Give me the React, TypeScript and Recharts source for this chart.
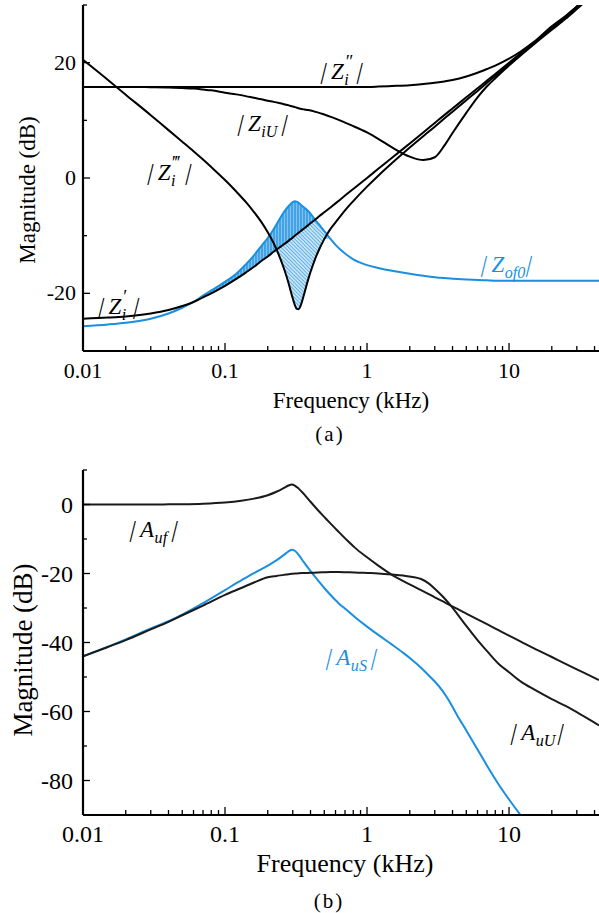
import React from 'react';
import { ComposedChart, Line, Area, XAxis, YAxis } from 'recharts';

const FONT = '"Liberation Serif", "DejaVu Serif", "Noto Serif", serif';
const BLUE = '#1a8fe0';
const BLACK = '#000000';

// ---------- shared x-axis ticks ----------
const xTicks = [
  0.01, 0.02, 0.03, 0.04, 0.05, 0.06, 0.07, 0.08, 0.09,
  0.1, 0.2, 0.3, 0.4, 0.5, 0.6, 0.7, 0.8, 0.9,
  1, 2, 3, 4, 5, 6, 7, 8, 9,
  10, 20, 30, 40,
];
const xLabels = [0.01, 0.1, 1, 10];

// ---------- (a) impedances ----------
const topFreq = [0.01, 0.015, 0.02, 0.03, 0.04, 0.05, 0.06, 0.07, 0.08, 0.1, 0.12, 0.14, 0.16, 0.18, 0.2, 0.22, 0.24, 0.26, 0.28, 0.29, 0.3, 0.31, 0.32, 0.33, 0.34, 0.36, 0.38, 0.4, 0.43, 0.46, 0.5, 0.55, 0.6, 0.7, 0.8, 1.0, 1.2, 1.5, 2.0, 2.5, 3.0, 3.5, 4, 5, 6, 7, 8, 10, 12, 15, 20, 25, 30, 35, 43];
const ziPrime = [-24.4, -24.2, -24.0, -23.5, -22.9, -22.2, -21.5, -20.7, -20.0, -18.7, -17.5, -16.4, -15.4, -14.4, -13.6, -12.8, -12.1, -11.5, -10.9, -10.6, -10.3, -10.0, -9.75, -9.5, -9.25, -8.75, -8.3, -7.85, -7.25, -6.65, -5.95, -5.15, -4.4, -3.05, -1.9, 0.0, 1.6, 3.5, 6.0, 7.95, 9.55, 10.9, 12.05, 14.0, 15.55, 16.9, 18.05, 20.0, 21.6, 23.5, 26.0, 27.95, 29.7, 31.0, 32.8];
const ziDouble = [15.8, 15.8, 15.8, 15.8, 15.8, 15.8, 15.8, 15.8, 15.8, 15.8, 15.8, 15.8, 15.8, 15.8, 15.8, 15.8, 15.8, 15.8, 15.8, 15.8, 15.8, 15.8, 15.8, 15.8, 15.8, 15.8, 15.8, 15.8, 15.8, 15.8, 15.8, 15.8, 15.8, 15.8, 15.8, 15.8, 15.85, 15.95, 16.1, 16.3, 16.5, 16.75, 17.0, 17.6, 18.25, 18.9, 19.5, 20.7, 21.9, 23.6, 26.3, 28.1, 29.75, 31.1, 32.9];
const ziTriple = [20.5, 17.0, 14.45, 10.9, 8.3, 6.3, 4.65, 3.2, 1.9, -0.35, -2.35, -4.15, -5.9, -7.6, -9.4, -11.3, -13.4, -15.7, -18.2, -19.6, -20.9, -22.0, -22.7, -22.75, -22.2, -20.2, -18.1, -16.3, -14.1, -12.4, -10.6, -8.9, -7.7, -5.6, -4.0, -1.5, 0.4, 2.6, 5.3, 7.3, 8.9, 10.3, 11.5, 13.5, 15.1, 16.5, 17.7, 19.7, 21.35, 23.35, 25.9, 27.9, 29.65, 30.95, 32.75];
const ziU = [15.8, 15.8, 15.8, 15.75, 15.7, 15.6, 15.5, 15.35, 15.2, 14.8, 14.5, 14.2, 13.9, 13.65, 13.4, 13.2, 13.0, 12.8, 12.6, 12.5, 12.4, 12.3, 12.2, 12.1, 12.0, 11.9, 11.8, 11.7, 11.5, 11.3, 11.0, 10.65, 10.3, 9.6, 9.0, 7.9, 6.8, 5.3, 3.7, 3.1, 3.6, 5.6, 7.8, 11.3, 14.0, 15.9, 17.3, 19.5, 21.2, 23.2, 25.7, 27.6, 29.3, 30.75, 32.6];
const zof0 = [-25.7, -25.4, -25.1, -24.4, -23.5, -22.5, -21.5, -20.4, -19.5, -18.0, -16.6, -15.0, -13.4, -11.8, -10.4, -8.9, -7.3, -5.9, -4.9, -4.5, -4.2, -4.05, -4.1, -4.3, -4.6, -5.1, -5.6, -6.2, -7.2, -8.1, -9.2, -10.5, -11.6, -13.1, -14.1, -15.1, -15.6, -16.1, -16.6, -16.95, -17.2, -17.35, -17.45, -17.6, -17.7, -17.75, -17.8, -17.8, -17.8, -17.8, -17.8, -17.8, -17.8, -17.8, -17.8];
const topYTicks = [-30, -20, -10, 0, 10, 20, 30];
const topYLabels = [-20, 0, 20];

// ---------- (b) gains ----------
const bottomFreq = [0.01, 0.015, 0.02, 0.03, 0.04, 0.05, 0.07, 0.1, 0.13, 0.16, 0.2, 0.23, 0.26, 0.28, 0.295, 0.31, 0.33, 0.36, 0.4, 0.45, 0.5, 0.55, 0.63, 0.72, 0.82, 1.0, 1.2, 1.5, 1.8, 2.1, 2.4, 2.7, 3.0, 3.4, 3.8, 4.3, 5.0, 6.0, 7.0, 8.5, 10, 12.2, 15, 20, 25, 33, 43];
const auf = [0, 0, 0, 0, 0.05, 0.1, 0.25, 0.6, 1.1, 1.7, 2.7, 3.7, 4.8, 5.5, 5.8, 5.5, 4.6, 3.0, 0.8, -1.6, -3.6, -5.4, -7.9, -10.3, -12.5, -15.3, -17.7, -20.4, -22.2, -23.6, -24.8, -25.9, -26.9, -28.0, -29.1, -30.2, -31.6, -33.3, -34.7, -36.5, -38.0, -39.8, -41.7, -44.2, -46.2, -48.6, -50.9];
const auU = [-44, -41.3, -39.3, -36.2, -34.0, -32.1, -29.3, -26.2, -24.2, -22.6, -21.1, -20.7, -20.4, -20.2, -20.1, -20.0, -19.9, -19.85, -19.8, -19.7, -19.65, -19.6, -19.6, -19.65, -19.7, -19.85, -20.0, -20.3, -20.6, -21.0, -21.6, -22.8, -24.4, -26.6, -28.8, -31.6, -35.2, -39.3, -42.5, -46.3, -48.6, -51.4, -53.6, -56.4, -58.4, -61.2, -64.0];
const auS = [-44, -41.2, -39.1, -35.9, -33.8, -31.9, -28.6, -24.8, -22.0, -19.9, -17.7, -16.2, -14.6, -13.6, -13.1, -13.4, -14.6, -16.8, -19.3, -21.9, -24.2, -26.1, -28.6, -30.6, -32.6, -35.4, -37.8, -40.6, -43.0, -45.2, -47.3, -49.4, -51.3, -54.0, -57.0, -61.0, -65.5, -71.0, -75.7, -81.3, -85.5, -90.3, -95, -101, -105, -110, -114];
const bottomYTicks = [-90, -80, -70, -60, -50, -40, -30, -20, -10, 0, 10];
const bottomYLabels = [0, -20, -40, -60, -80];

const topData = topFreq.map((f, i) => {
  const cap = Math.min(ziPrime[i], zof0[i]);
  return {
    f,
    zi1: ziPrime[i],
    zi2: ziDouble[i],
    zi3: ziTriple[i],
    ziu: ziU[i],
    zof: zof0[i],
    hatchA: [ziPrime[i], Math.max(ziPrime[i], zof0[i])],
    hatchB: [Math.min(ziTriple[i], cap), cap],
  };
});

const bottomData = bottomFreq.map((f, i) => ({ f, auf: auf[i], auU: auU[i], auS: auS[i] }));

// ---------- ticks ----------
function XTick(props: any) {
  const { x, y, payload, fs, dy, dir, showLabel, color, majorLen, minorLen } = props;
  const v = payload.value;
  const major = xLabels.indexOf(v) >= 0;
  const len = major ? majorLen : minorLen;
  return (
    <g>
      <line x1={x} x2={x} y1={y} y2={y + dir * len} stroke={color} strokeWidth={1.3} />
      {showLabel && major && (
        <text x={x} y={y + dy} textAnchor="middle" fontSize={fs} fontFamily={FONT} fill="#000">
          {String(v)}
        </text>
      )}
    </g>
  );
}

function YTick(props: any) {
  const { x, y, payload, labels, fs, dx, dy } = props;
  const v = payload.value;
  const major = labels.indexOf(v) >= 0;
  const len = major ? 7 : 4;
  return (
    <g>
      <line x1={x} x2={x + len} y1={y} y2={y} stroke="#000" strokeWidth={1.3} />
      {major && (
        <text x={x - dx} y={y + dy} textAnchor="end" fontSize={fs} fontFamily={FONT} fill="#000">
          {String(v)}
        </text>
      )}
    </g>
  );
}

// ---------- math labels ----------
const VBar = () => (
  <span style={{ display: 'inline-block', transform: 'skewX(-14deg)', fontStyle: 'normal' }}>|</span>
);

function MathLabel(props: {
  cx: number; cy: number; fs: number; color: string; base: string; sup?: string; sub?: string; w: number;
}) {
  const { cx, cy, fs, color, base, sup, sub, w } = props;
  return (
    <div
      style={{
        position: 'absolute', left: cx, top: cy, transform: 'translate(-50%,-50%)',
        fontFamily: FONT, fontStyle: 'italic', fontSize: fs, color, whiteSpace: 'nowrap', lineHeight: 1,
      }}
    >
      <VBar />
      <span style={{ marginLeft: fs * 0.2 }}>{base}</span>
      <span style={{ position: 'relative', display: 'inline-block', width: w * fs, height: fs, verticalAlign: 'top' }}>
        {sup && (
          <span style={{ position: 'absolute', left: fs * 0.08, top: -fs * 0.12, fontSize: fs * 0.8, fontStyle: 'normal', lineHeight: 0.6 }}>
            {sup}
          </span>
        )}
        {sub && (
          <span style={{ position: 'absolute', left: fs * 0.02, top: fs * 0.62, fontSize: fs * 0.7, lineHeight: 0.8 }}>{sub}</span>
        )}
      </span>
      <span style={{ marginLeft: fs * 0.2 }}>
        <VBar />
      </span>
    </div>
  );
}

function PlainText(props: { cx: number; cy: number; fs: number; text: string; rotate?: boolean; ls?: number }) {
  const { cx, cy, fs, text, rotate, ls } = props;
  return (
    <div
      style={{
        position: 'absolute', left: cx, top: cy,
        transform: `translate(-50%,-50%)${rotate ? ' rotate(-90deg)' : ''}`,
        fontFamily: FONT, fontSize: fs, color: '#000', whiteSpace: 'nowrap', lineHeight: 1,
        letterSpacing: ls ?? 0,
      }}
    >
      {text}
    </div>
  );
}

export default function App() {
  const axisLine = { stroke: '#000', strokeWidth: 2.2 };
  return (
    <div style={{ position: 'absolute', left: 0, top: 0, width: 599, height: 913, background: '#fff', overflow: 'hidden' }}>
      {/* (a) */}
      <div style={{ position: 'absolute', left: 0, top: 0 }}>
        <ComposedChart width={599} height={420} data={topData} margin={{ top: 5, right: 0, bottom: 0, left: 0 }}>
          <defs>
            <pattern id="vstripe" width="3" height="6" patternUnits="userSpaceOnUse">
              <rect width="3" height="6" fill={BLUE} fillOpacity={0.55} />
              <line x1="1" y1="0" x2="1" y2="6" stroke={BLUE} strokeWidth="1.2" />
            </pattern>
            <pattern id="dstripe" width="2.6" height="2.6" patternUnits="userSpaceOnUse" patternTransform="rotate(-45)">
              <rect width="2.6" height="2.6" fill={BLUE} fillOpacity={0.25} />
              <line x1="0" y1="0" x2="0" y2="2.6" stroke={BLUE} strokeWidth="1.1" />
            </pattern>
          </defs>
          <XAxis
            dataKey="f" type="number" scale="log" domain={[0.01, 43]} allowDataOverflow
            ticks={xTicks} interval={0} tickSize={0} tickMargin={0} height={69}
            axisLine={axisLine} tickLine={false}
            tick={(p: any) => <XTick {...p} fs={22} dy={27} dir={-1} showLabel color="#000" majorLen={8} minorLen={5} />}
          />
          <XAxis
            xAxisId="top" orientation="top" dataKey="f" type="number" scale="log" domain={[0.01, 43]} allowDataOverflow
            ticks={xTicks} interval={0} tickSize={0} tickMargin={0} height={0}
            axisLine={axisLine} tickLine={false}
            tick={(p: any) => <XTick {...p} fs={22} dy={0} dir={1} showLabel={false} color="#000" majorLen={0} minorLen={0} />}
          />
          <YAxis
            type="number" domain={[-30, 30]} allowDataOverflow ticks={topYTicks} interval={0}
            width={83} tickSize={0} tickMargin={0} axisLine={axisLine} tickLine={false}
            tick={(p: any) => <YTick {...p} labels={topYLabels} fs={22} dx={7} dy={7} />}
          />
          <Area dataKey="hatchA" type="monotone" stroke="none" fill="url(#vstripe)" fillOpacity={1} isAnimationActive={false} dot={false} activeDot={false} />
          <Area dataKey="hatchB" type="monotone" stroke="none" fill="url(#dstripe)" fillOpacity={1} isAnimationActive={false} dot={false} activeDot={false} />
          <Line dataKey="zof" type="monotone" stroke={BLUE} strokeWidth={2} dot={false} isAnimationActive={false} />
          <Line dataKey="zi2" type="monotone" stroke={BLACK} strokeWidth={2} dot={false} isAnimationActive={false} />
          <Line dataKey="ziu" type="monotone" stroke={BLACK} strokeWidth={2} dot={false} isAnimationActive={false} />
          <Line dataKey="zi3" type="monotone" stroke={BLACK} strokeWidth={2} dot={false} isAnimationActive={false} />
          <Line dataKey="zi1" type="monotone" stroke={BLACK} strokeWidth={2} dot={false} isAnimationActive={false} />
        </ComposedChart>
      </div>

      {/* (b) */}
      <div style={{ position: 'absolute', left: 0, top: 455 }}>
        <ComposedChart width={599} height={400} data={bottomData} margin={{ top: 15, right: 0, bottom: 0, left: 0 }}>
          <XAxis
            dataKey="f" type="number" scale="log" domain={[0.01, 43]} allowDataOverflow
            ticks={xTicks} interval={0} tickSize={0} tickMargin={0} height={40}
            axisLine={axisLine} tickLine={false}
            tick={(p: any) => <XTick {...p} fs={24} dy={27} dir={-1} showLabel color="#000" majorLen={8} minorLen={5} />}
          />
          <XAxis
            xAxisId="top" orientation="top" dataKey="f" type="number" scale="log" domain={[0.01, 43]} allowDataOverflow
            ticks={xTicks} interval={0} tickSize={0} tickMargin={0} height={0}
            axisLine={axisLine} tickLine={false}
            tick={(p: any) => <XTick {...p} fs={24} dy={0} dir={1} showLabel={false} color="#aaaaaa" majorLen={4} minorLen={3} />}
          />
          <YAxis
            type="number" domain={[-90, 10]} allowDataOverflow ticks={bottomYTicks} interval={0}
            width={83} tickSize={0} tickMargin={0} axisLine={axisLine} tickLine={false}
            tick={(p: any) => <YTick {...p} labels={bottomYLabels} fs={24} dx={10} dy={8} />}
          />
          <Line dataKey="auS" type="monotone" stroke={BLUE} strokeWidth={2} dot={false} isAnimationActive={false} />
          <Line dataKey="auf" type="monotone" stroke="#1a1a1a" strokeWidth={2} dot={false} isAnimationActive={false} />
          <Line dataKey="auU" type="monotone" stroke="#1a1a1a" strokeWidth={2} dot={false} isAnimationActive={false} />
        </ComposedChart>
      </div>

      {/* axis titles and captions */}
      <PlainText cx={27} cy={190} fs={23} text="Magnitude (dB)" rotate />
      <PlainText cx={351} cy={400} fs={23} text="Frequency (kHz)" />
      <PlainText cx={330} cy={434} fs={21} text="(a)" ls={2} />
      <PlainText cx={23} cy={650} fs={27} text="Magnitude (dB)" rotate />
      <PlainText cx={345} cy={864} fs={26} text="Frequency (kHz)" />
      <PlainText cx={329} cy={901} fs={21} text="(b)" ls={2} />

      {/* curve annotations */}
      <MathLabel cx={342} cy={71} fs={23} color="#000" base="Z" sup={'\u2033'} sub="i" w={0.4} />
      <MathLabel cx={263} cy={123} fs={23} color="#000" base="Z" sub="iU" w={0.75} />
      <MathLabel cx={170} cy={172} fs={23} color="#000" base="Z" sup={'\u2034'} sub="i" w={0.5} />
      <MathLabel cx={119} cy={306} fs={23} color="#000" base="Z" sup={'\u2032'} sub="i" w={0.35} />
      <MathLabel cx={507} cy={264} fs={23} color={BLUE} base="Z" sub="of0" w={0.8} />
      <MathLabel cx={154} cy={529} fs={23} color="#000" base="A" sub="uf" w={0.6} />
      <MathLabel cx={352} cy={657} fs={23} color={BLUE} base="A" sub="uS" w={0.75} />
      <MathLabel cx={538} cy={732} fs={23} color="#000" base="A" sub="uU" w={0.85} />
    </div>
  );
}
